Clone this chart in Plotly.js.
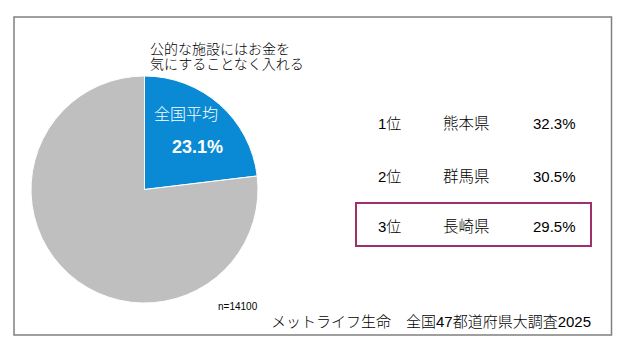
<!DOCTYPE html>
<html>
<head>
<meta charset="utf-8">
<script src="https://cdn.plot.ly/plotly-3.0.1.min.js"></script>
<style>html,body{margin:0;padding:0;background:#fff;}#chart{width:630px;height:355px;}</style>
</head>
<body>
<div id="chart"></div>
<script>
// Data
const sliceLabels = ["全国平均", "その他"];
const sliceValues = [23.1, 76.9];
const questionLines = ["公的な施設にはお金を", "気にすることなく入れる"];
const ranks = ["1位", "2位", "3位"];
const prefectures = ["熊本県", "群馬県", "長崎県"];
const prefValues = [32.3, 30.5, 29.5];
const sampleNote = "n=14100";
const sourceText = "メットライフ生命　全国47都道府県大調査2025";

const W = 630, H = 355;
const px = x => x / W;
const py = y => 1 - y / H;
const FONT = "Liberation Sans, Arial, 'Noto Sans CJK JP', sans-serif";

const trace = {
  type: "pie",
  labels: sliceLabels,
  values: sliceValues,
  sort: false,
  direction: "clockwise",
  rotation: 0,
  textinfo: "none",
  hoverinfo: "none",
  marker: { colors: ["#0a8ad4", "#bfbfbf"], line: { color: "#ffffff", width: 1 } },
  domain: { x: [px(31), px(258)], y: [py(303), py(76)] },
  showlegend: false
};

const annotations = [];
function addText(text, x, y, size, opts) {
  annotations.push(Object.assign({
    text: text, xref: "paper", yref: "paper", x: px(x), y: py(y),
    xanchor: "left", yanchor: "middle", showarrow: false,
    font: { family: FONT, size: size, color: "#000000", weight: 300 }
  }, opts || {}));
}
addText(questionLines[0], 148, 49, 14);
addText(questionLines[1], 148, 64, 14);
addText(sliceLabels[0], 152, 114, 16, { font: { family: FONT, size: 16, color: "#ffffff", weight: 300 } });
addText(sliceValues[0].toFixed(1) + "%", 197, 147, 18, { xanchor: "center", font: { family: FONT, size: 18, color: "#ffffff", weight: "bold" } });

const rowY = [124, 176, 226];
ranks.forEach((r, i) => {
  addText(r, 376, rowY[i], 15);
  addText(prefectures[i], 441, rowY[i], 15.5);
  addText(prefValues[i].toFixed(1) + "%", 578, rowY[i], 15, { xanchor: "right", font: { family: FONT, size: 15, color: "#000000", weight: "normal" } });
});
addText(sampleNote, 216, 306, 10, { font: { family: FONT, size: 10, color: "#000000", weight: "normal" } });
addText(sourceText, 269, 321, 15);

const layout = {
  width: W, height: H,
  margin: { l: 0, r: 0, t: 0, b: 0 },
  paper_bgcolor: "#ffffff",
  plot_bgcolor: "#ffffff",
  annotations: annotations,
  shapes: [
    { type: "rect", xref: "paper", yref: "paper", x0: px(14), x1: px(611.5), y0: py(335), y1: py(17),
      line: { color: "#808080", width: 1.5 } },
    { type: "rect", xref: "paper", yref: "paper", x0: px(356), x1: px(591), y0: py(246), y1: py(203),
      line: { color: "#a0306c", width: 2 } }
  ]
};

Plotly.newPlot("chart", [trace], layout, { staticPlot: true, displayModeBar: false });
</script>
</body>
</html>
